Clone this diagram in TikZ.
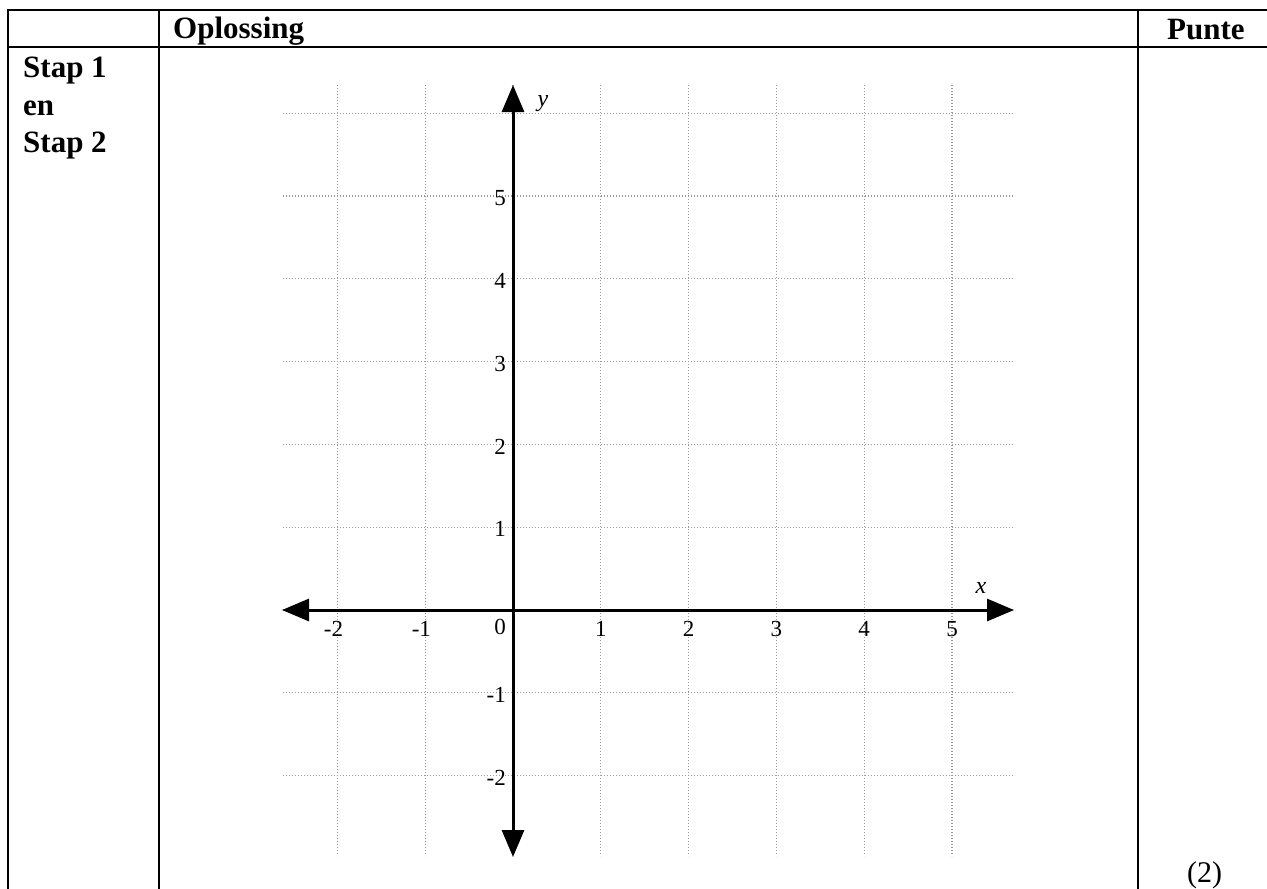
\documentclass[tikz,border=0pt]{standalone}
\usepackage{fontspec}
\setmainfont{Liberation Serif}
\usetikzlibrary{arrows.meta}
\begin{document}
\begin{tikzpicture}[x=1pt,y=-1pt,
  rule/.style={line width=2.2pt, line cap=rect},
  gridline/.style={line width=1.3pt, draw=black!40, dash pattern=on 1.2pt off 1.8pt},
  axis/.style={line width=3pt, {Triangle[length=27pt,width=22pt]}-{Triangle[length=27pt,width=22pt]}},
  head/.style={font=\fontsize{31}{36}\selectfont\bfseries, anchor=base west, inner sep=0pt},
  plain/.style={font=\fontsize{30}{36}\selectfont, anchor=base west, inner sep=0pt},
  ticklab/.style={font=\fontsize{23}{25}\selectfont, inner sep=0pt},
  axlab/.style={font=\fontsize{24}{26}\selectfont\itshape, inner sep=0pt}]
\useasboundingbox (0,0) rectangle (1267,889);
% table rules
\coordinate (tl) at (8,10);
\coordinate (tr) at (1267,10);
\coordinate (hl) at (8,47);
\coordinate (hr) at (1267,47);
\coordinate (bl) at (8,889);
\coordinate (d1t) at (159,10);
\coordinate (d1b) at (159,889);
\coordinate (d2t) at (1138,10);
\coordinate (d2b) at (1138,889);
\draw[rule] (tl) -- (tr);
\draw[rule] (hl) -- (hr);
\draw[rule] (tl) -- (bl);
\draw[rule] (d1t) -- (d1b);
\draw[rule] (d2t) -- (d2b);
% header texts
\node[head] (opl) at (173,38) {Oplossing};
\node[head] (punte) at (1167,39) {Punte};
\node[head] (s1) at (23,77) {Stap 1};
\node[head] (en) at (23,115) {en};
\node[head] (s2) at (23,152) {Stap 2};
\node[plain] (pts) at (1187,882) {(2)};
% grid
\foreach \i in {-2,...,5}
  \draw[gridline] ({513+87.8*\i},85) -- ({513+87.8*\i},856);
\foreach \j in {-2,...,6}
  \draw[gridline] (283,{610-82.8*\j}) -- (1015,{610-82.8*\j});
% axes
\coordinate (xl) at (282,610);
\coordinate (xr) at (1014,610);
\coordinate (yt) at (513,85);
\coordinate (yb) at (513,857);
\draw[axis] (xl) -- (xr);
\draw[axis] (yb) -- (yt);
\node[axlab] (xlab) at (981,588) {x};
\node[axlab] (ylab) at (543,104) {y};
% tick labels
\node[ticklab] (x0) at (500,627) {0};
\foreach \i in {1,...,5}
  \node[ticklab] (x\i) at ({513+87.8*\i},629) {\i};
\node[ticklab] (xm1) at ({513-87.8},629) {\llap{-}1};
\node[ticklab] (xm2) at ({513-2*87.8},629) {\llap{-}2};
\foreach \j in {1,...,5}
  \node[ticklab, anchor=east] (y\j) at (506,{612-82.8*\j}) {\j};
\node[ticklab, anchor=east] (ym1) at (506,{612+82.8}) {-1};
\node[ticklab, anchor=east] (ym2) at (506,{612+2*82.8}) {-2};
\end{tikzpicture}
\end{document}
